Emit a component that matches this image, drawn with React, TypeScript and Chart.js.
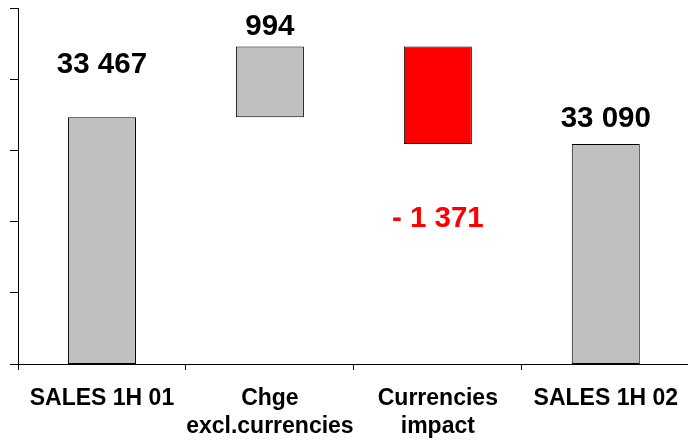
import { useEffect, useRef } from "react";
import { Chart, registerables } from "chart.js";

Chart.register(...registerables);

// ---- data ----
const categories: string[][] = [
  ["SALES 1H 01"],
  ["Chge", "excl.currencies"],
  ["Currencies", "impact"],
  ["SALES 1H 02"],
];
const values = [33467, 994, -1371, 33090];
const kinds = ["total", "delta", "delta", "total"];
const axisMin = 30000;
const axisMax = 35000;
const axisStep = 1000;

// ---- styles ----
const grey = "#C0C0C0";
const red = "#FF0000";
const labelOffsets = [-44, -11, 83, -17];
const fontFamily = "'Liberation Sans', Arial, sans-serif";

function fmt(n: number): string {
  const s = String(Math.abs(n)).replace(/\B(?=(\d{3})+(?!\d))/g, " ");
  return n < 0 ? "- " + s : s;
}

function buildRanges(): [number, number][] {
  let running = 0;
  return values.map((v, i) => {
    if (kinds[i] === "total") {
      running = v;
      return [axisMin, v] as [number, number];
    }
    const start = running;
    running = running + v;
    return [start, running] as [number, number];
  });
}

const valueLabels = {
  id: "valueLabels",
  afterDatasetsDraw(chart: any) {
    const ctx = chart.ctx;
    const meta = chart.getDatasetMeta(0);
    ctx.save();
    ctx.font = `bold 29.5px ${fontFamily}`;
    ctx.textAlign = "center";
    ctx.textBaseline = "alphabetic";
    meta.data.forEach((el: any, i: number) => {
      const v = values[i];
      const anchor = v < 0 ? Math.max(el.y, el.base) : Math.min(el.y, el.base);
      ctx.fillStyle = v < 0 ? red : "#000000";
      ctx.fillText(fmt(v), el.x, anchor + labelOffsets[i]);
    });
    ctx.restore();
  },
};

export default function App() {
  const ref = useRef<HTMLCanvasElement>(null);
  useEffect(() => {
    if (!ref.current) return;
    const ranges = buildRanges();
    const chart = new Chart(ref.current, {
      type: "bar",
      data: {
        labels: categories,
        datasets: [
          {
            data: ranges as any,
            backgroundColor: values.map((v) => (v < 0 ? red : grey)),
            borderColor: "#000000",
            borderWidth: 1,
            borderSkipped: false,
            barPercentage: 0.405,
            categoryPercentage: 1,
          },
        ],
      },
      options: {
        animation: false,
        responsive: false,
        maintainAspectRatio: false,
        layout: { padding: { left: 10, top: 8, right: 0, bottom: 0 } },
        plugins: {
          legend: { display: false },
          tooltip: { enabled: false },
        },
        scales: {
          x: {
            afterFit: (scale: any) => {
              scale.height = 76;
            },
            grid: {
              offset: true,
              drawOnChartArea: false,
              drawTicks: true,
              tickLength: 6,
              color: "#000000",
            },
            border: { color: "#000000", width: 1 },
            ticks: {
              color: "#000000",
              autoSkip: false,
              maxRotation: 0,
              minRotation: 0,
              padding: 15,
              font: { family: fontFamily, size: 23, weight: "bold", lineHeight: 28 / 23 },
            },
          },
          y: {
            min: axisMin,
            max: axisMax,
            grid: {
              drawOnChartArea: false,
              drawTicks: true,
              tickLength: 8,
              color: "#000000",
            },
            border: { color: "#000000", width: 1 },
            ticks: { display: false, stepSize: axisStep },
          },
        },
      },
      plugins: [valueLabels],
    });
    return () => chart.destroy();
  }, []);
  return (
    <div style={{ position: "absolute", left: 0, top: 0, width: 688, height: 440, overflow: "hidden", background: "#fff" }}>
      <canvas ref={ref} width={693} height={440} style={{ width: 693, height: 440, display: "block" }} />
    </div>
  );
}
